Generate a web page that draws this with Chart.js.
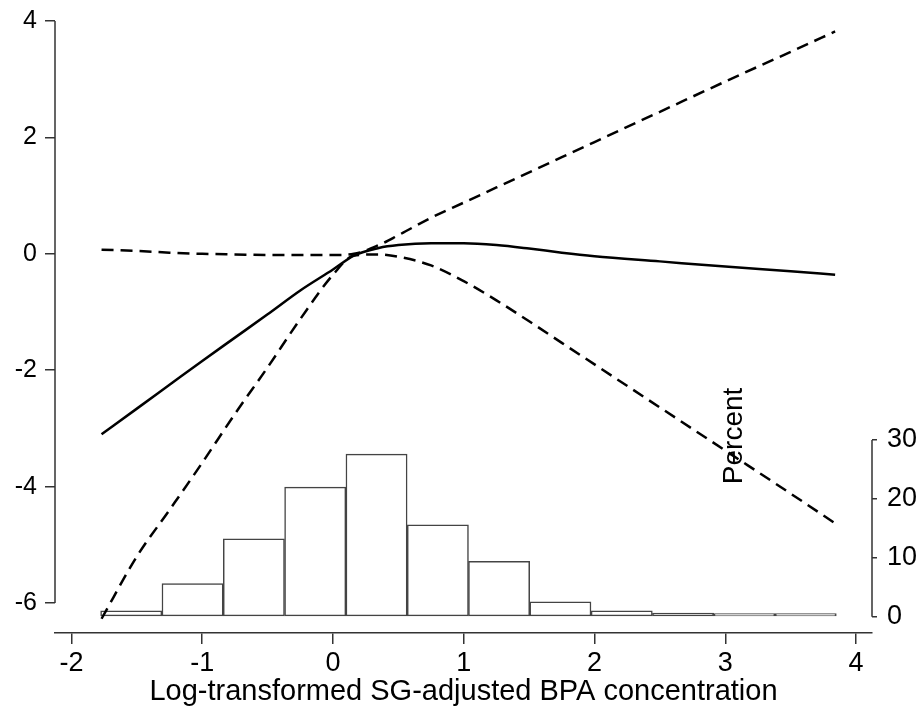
<!DOCTYPE html>
<html>
<head>
<meta charset="utf-8">
<script src="https://cdn.jsdelivr.net/npm/chart.js@4/dist/chart.umd.min.js"></script>
<style>
  body { margin: 0; background: #fff; }
  #wrap { width: 924px; height: 715px; }
</style>
</head>
<body>
<div id="wrap"><canvas id="myChart"></canvas></div>
<script>
// spline fit and 95% band
const xGrid = [-1.77, -1.5, -1.25, -1.0, -0.75, -0.5, -0.25, 0, 0.16, 0.35, 0.5, 0.75, 1.0, 1.25, 1.5, 1.75, 2.0, 2.5, 3.0, 3.5, 3.84];
const fitVals = [-3.10, -2.66, -2.25, -1.84, -1.44, -1.04, -0.63, -0.27, -0.03, 0.10, 0.15, 0.18, 0.18, 0.15, 0.09, 0.02, -0.04, -0.13, -0.22, -0.30, -0.36];
const upperVals = [0.07, 0.05, 0.02, 0.00, -0.01, -0.02, -0.02, -0.02, 0.00, 0.15, 0.32, 0.62, 0.88, 1.14, 1.40, 1.66, 1.92, 2.44, 2.96, 3.47, 3.82];
const lowerVals = [-6.27, -5.20, -4.40, -3.59, -2.75, -1.95, -1.12, -0.36, -0.03, -0.01, -0.05, -0.20, -0.47, -0.80, -1.16, -1.53, -1.90, -2.64, -3.38, -4.12, -4.63];

// histogram (percent)
const binCenters = [-1.543, -1.074, -0.605, -0.136, 0.333, 0.802, 1.270, 1.739, 2.208, 2.677, 3.146, 3.615];
const binPercent = [1.0, 5.6, 13.2, 22.0, 27.6, 15.6, 9.4, 2.5, 1.0, 0.6, 0.2, 0.5];

const xTicks = [-2, -1, 0, 1, 2, 3, 4];
const yTicks = [-6, -4, -2, 0, 2, 4];
const pctTicks = [0, 10, 20, 30];

const xTitle = "Log-transformed SG-adjusted BPA concentration";
const pctTitle = "Percent";

const narrow = "'Liberation Sans Narrow', 'Liberation Sans', Arial, sans-serif";
const regular = "'Liberation Sans', Arial, sans-serif";
const axisColor = "#333";

const pts = vals => xGrid.map((x, i) => ({ x: x, y: vals[i] }));

// Stata-style axis lines that only run between the end ticks
const axisLines = {
  id: "axisLines",
  afterDraw(chart) {
    const ctx = chart.ctx;
    const ca = chart.chartArea;
    const y = chart.scales.y;
    const y2 = chart.scales.y2;
    ctx.save();
    ctx.strokeStyle = axisColor;
    ctx.lineWidth = 1.5;
    ctx.beginPath();
    ctx.moveTo(ca.left, y.getPixelForValue(yTicks[yTicks.length - 1]));
    ctx.lineTo(ca.left, y.getPixelForValue(yTicks[0]));
    ctx.moveTo(ca.right, y2.getPixelForValue(pctTicks[pctTicks.length - 1]));
    ctx.lineTo(ca.right, y2.getPixelForValue(pctTicks[0]));
    ctx.stroke();
    // the "Percent" title sits inside the plot, as in the original
    ctx.fillStyle = "#000";
    ctx.font = "28px " + regular;
    ctx.textAlign = "center";
    ctx.textBaseline = "alphabetic";
    ctx.translate(ca.right - 130, y2.getPixelForValue(30) - 4);
    ctx.rotate(-Math.PI / 2);
    ctx.fillText(pctTitle, 0, 0);
    ctx.restore();
  }
};

const fixTicks = list => scale => { scale.ticks = list.map(v => ({ value: v })); };

new Chart(document.getElementById("myChart"), {
  type: "line",
  data: {
    datasets: [
      { type: "line", data: pts(fitVals), yAxisID: "y", borderColor: "#000", borderWidth: 2.5,
        pointRadius: 0, cubicInterpolationMode: "monotone", order: 1 },
      { type: "line", data: pts(upperVals), yAxisID: "y", borderColor: "#000", borderWidth: 2.5,
        borderDash: [12, 7], pointRadius: 0, cubicInterpolationMode: "monotone", order: 1 },
      { type: "line", data: pts(lowerVals), yAxisID: "y", borderColor: "#000", borderWidth: 2.5,
        borderDash: [12, 7], pointRadius: 0, cubicInterpolationMode: "monotone", order: 1 },
      { type: "bar", data: binCenters.map((x, i) => ({ x: x, y: binPercent[i] })), yAxisID: "y2",
        backgroundColor: "#fff", borderColor: "#444", borderWidth: 1.5, borderSkipped: false,
        minBarLength: 3, barPercentage: 1, categoryPercentage: 1, order: 2 }
    ]
  },
  options: {
    responsive: true,
    maintainAspectRatio: false,
    devicePixelRatio: 1,
    animation: false,
    layout: { padding: { top: 21, left: 0, right: 0, bottom: 0 } },
    plugins: { legend: { display: false }, tooltip: { enabled: false } },
    scales: {
      x: {
        type: "linear", min: -2.126, max: 4.122, offset: false,
        afterBuildTicks: fixTicks(xTicks),
        afterFit: s => { s.height = 82; s.paddingLeft = 0; s.paddingRight = 0; },
        grid: { drawOnChartArea: false, drawTicks: true, tickLength: 11, color: axisColor, lineWidth: 1.5, offset: false },
        border: { display: true, color: axisColor, width: 1.5 },
        ticks: { color: "#000", padding: 3, maxRotation: 0, font: { family: narrow, size: 27 } },
        title: { display: true, text: xTitle, color: "#000", padding: { top: 0, bottom: 6 },
          font: { family: narrow, size: 29 } }
      },
      y: {
        type: "linear", position: "left", min: -6.515, max: 4,
        afterBuildTicks: fixTicks(yTicks),
        afterFit: s => { s.width = 55; s.paddingTop = 0; s.paddingBottom = 0; },
        grid: { drawOnChartArea: false, drawTicks: true, tickLength: 10, color: axisColor, lineWidth: 1.5 },
        border: { display: false },
        ticks: { color: "#000", padding: 8, font: { family: regular, size: 25 } }
      },
      y2: {
        type: "linear", position: "right", min: -2.77, max: 101.1,
        afterBuildTicks: fixTicks(pctTicks),
        afterFit: s => { s.width = 52; s.paddingTop = 0; s.paddingBottom = 0; },
        grid: { drawOnChartArea: false, drawTicks: true, tickLength: 5, color: axisColor, lineWidth: 1.5 },
        border: { display: false },
        ticks: { color: "#000", padding: 10, font: { family: narrow, size: 27 } }
      }
    }
  },
  plugins: [axisLines]
});
</script>
</body>
</html>
